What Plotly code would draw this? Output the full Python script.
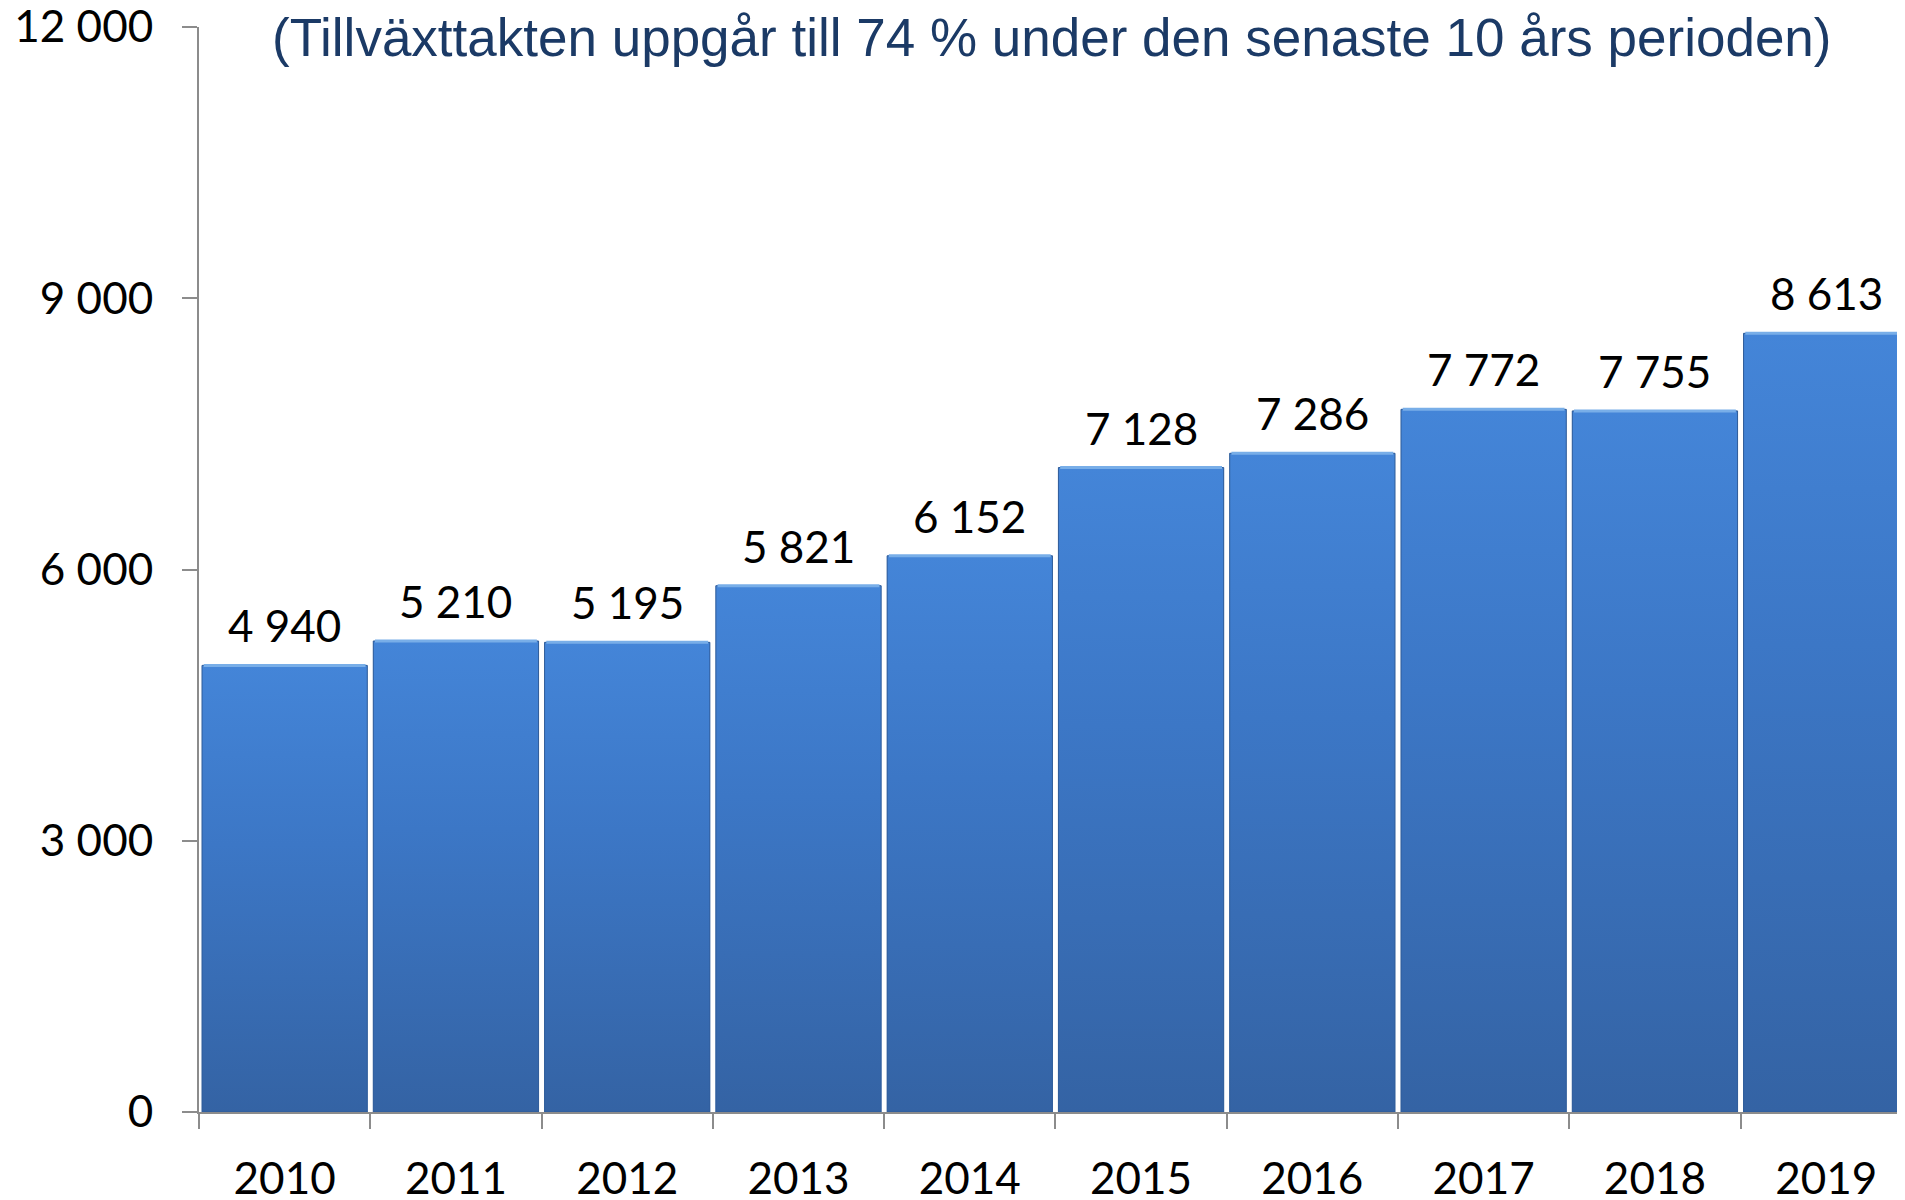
import plotly.graph_objects as go

years = ["2010", "2011", "2012", "2013", "2014", "2015", "2016", "2017", "2018", "2019"]
values = [4940, 5210, 5195, 5821, 6152, 7128, 7286, 7772, 7755, 8613]
y_ticks = [0, 3000, 6000, 9000, 12000]
title_text = "(Tillväxttakten uppgår till 74 % under den senaste 10 års perioden)"

BARGAP = 0.035
X_RANGE = [-0.5, 9.46]
Y_RANGE = [0, 12001]


def fmt(v):
    return f"{v:,}".replace(",", " ")


fig = go.Figure()
# base bar trace (category axis)
fig.add_trace(go.Bar(
    x=years, y=values,
    marker=dict(color="#3b72bd", line=dict(width=0)),
    hoverinfo="x+y",
))

# per-bar vertical gradient overlay, derived from the same values
half = (1 - BARGAP) / 2
for i, v in enumerate(values):
    fig.add_trace(go.Scatter(
        x=[i - half, i + half, i + half, i - half, i - half],
        y=[0, 0, v, v, 0],
        xaxis="x2", yaxis="y",
        mode="lines", fill="toself",
        line=dict(color="#2f5c99", width=1),
        fillgradient=dict(type="vertical",
                          colorscale=[[0, "#3463a4"], [0.6, "#3c77c6"], [1, "#4485d8"]]),
        hoverinfo="skip", showlegend=False,
    ))
    # light bevel along top edge
    fig.add_trace(go.Scatter(
        x=[i - half + 0.01, i + half - 0.01], y=[v, v],
        xaxis="x2", yaxis="y", mode="lines",
        line=dict(color="#78aee8", width=3),
        hoverinfo="skip", showlegend=False,
    ))
    fig.add_annotation(
        x=i, y=v, xref="x2", yref="y", text=fmt(v),
        showarrow=False, yanchor="bottom", yshift=12,
        font=dict(family="Lato", size=44, color="#000000"),
    )

fig.add_annotation(
    xref="paper", yref="paper", x=0.5, y=1.0, yanchor="middle",
    xanchor="center", yshift=-10,
    text=title_text, showarrow=False,
    font=dict(family="Liberation Sans", size=53, color="#1b3a66"),
)

fig.update_layout(
    width=1897, height=1192,
    margin=dict(l=191, r=0, t=19, b=88),
    paper_bgcolor="white", plot_bgcolor="white",
    bargap=BARGAP,
    separators=", ",
    showlegend=False,
    font=dict(family="Lato", size=44, color="#000000"),
    xaxis2=dict(overlaying="x", range=X_RANGE, visible=False, automargin=False),
)
fig.layout.xaxis.update(
    type="category", range=X_RANGE, automargin=False,
    showline=True, linecolor="#8c8c8c", linewidth=2,
    ticks="outside", tickson="boundaries", ticklen=15, tickcolor="#8c8c8c", tickwidth=2,
    ticklabelstandoff=27, ticklabeloverflow="allow",
    tickfont=dict(family="Lato", size=44, color="#000000"),
    showgrid=False, zeroline=False,
)
fig.update_yaxes(
    range=Y_RANGE, tickvals=y_ticks, automargin=False,
    ticktext=[fmt(t) for t in y_ticks],
    showline=True, linecolor="#8c8c8c", linewidth=2,
    ticks="outside", ticklen=15, tickcolor="#8c8c8c", tickwidth=2,
    ticklabelstandoff=20, ticklabeloverflow="allow",
    tickfont=dict(family="Lato", size=44, color="#000000"),
    showgrid=False, zeroline=False,
)

fig.write_html("out.html")
